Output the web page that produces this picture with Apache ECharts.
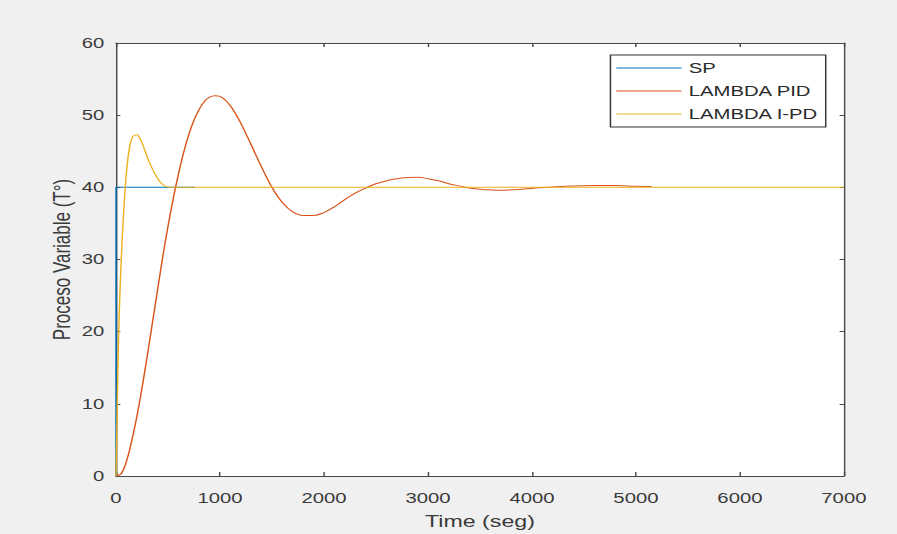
<!DOCTYPE html>
<html>
<head>
<meta charset="utf-8">
<script src="https://cdn.jsdelivr.net/npm/echarts@6/dist/echarts.min.js"></script>
<style>
  html, body { margin: 0; padding: 0; background: #f0f0f0; overflow: hidden; }
  #wrap { width: 897px; height: 534px; overflow: hidden; }
  /* the figure is laid out narrow and widened horizontally */
  #chart { width: 619px; height: 534px; transform: scaleX(1.45); transform-origin: 0 0; }
</style>
</head>
<body>
<div id="wrap"><div id="chart"></div></div>
<script>
// Set point
const spTime = [0, 0, 760];
const spValue = [0, 40, 40];

// LAMBDA PID response
const pidTime = [0, 50, 100, 150, 200, 250, 300, 350, 400, 450, 500, 550, 600, 650, 700, 750, 800, 850, 900, 950,
  1000, 1050, 1100, 1150, 1200, 1300, 1400, 1500, 1600, 1700, 1800, 1900, 2000, 2100, 2200, 2300, 2400, 2500,
  2600, 2700, 2800, 2900, 3000, 3100, 3200, 3300, 3400, 3500, 3600, 3700, 3800, 3900, 4000, 4200, 4400, 4600,
  4800, 5000, 5150];
const pidValue = [0, 0.3, 2.0, 4.8, 8.2, 12.2, 16.6, 21.2, 25.8, 30.4, 34.6, 38.4, 41.8, 44.8, 47.3, 49.3, 50.8, 51.9, 52.5, 52.7,
  52.6, 52.1, 51.3, 50.2, 48.9, 45.9, 42.8, 40.0, 37.9, 36.6, 36.1, 36.1, 36.5, 37.3, 38.3, 39.2, 39.9, 40.5,
  40.9, 41.2, 41.35, 41.4, 41.2, 40.9, 40.5, 40.2, 39.9, 39.75, 39.65, 39.6, 39.65, 39.75, 39.85, 40.05, 40.2, 40.25,
  40.25, 40.15, 40.1];

// LAMBDA I-PD response
const ipdTime = [0, 10, 20, 30, 45, 60, 80, 100, 130, 160, 200, 240, 280, 320, 370, 420, 470, 520, 600, 800, 7000];
const ipdValue = [0, 8, 16, 22, 28, 33, 38, 42, 45.5, 47, 47.3, 46.5, 45, 43.5, 42, 40.8, 40.2, 40, 40, 40, 40];

const xTicks = { min: 0, max: 7000, step: 1000 };
const yTicks = { min: 0, max: 60, step: 10 };

const pairs = (t, v) => t.map((x, i) => [x, v[i]]);

const axisColor = '#4a4a4a';
const textColor = '#3a3a3a';
const font = '"Liberation Sans", Arial, sans-serif';
const lineIcon = 'path://M0,0H45V1H0Z';

const chart = echarts.init(document.getElementById('chart'), null, { renderer: 'svg' });
chart.setOption({
  backgroundColor: '#f0f0f0',
  animation: false,
  grid: { left: 80, right: 37, top: 43, bottom: 55, show: true, backgroundColor: '#ffffff', borderWidth: 0 },
  legend: {
    data: [
      { name: 'SP', icon: lineIcon },
      { name: 'LAMBDA PID', icon: lineIcon },
      { name: 'LAMBDA I-PD', icon: lineIcon }
    ],
    orient: 'vertical',
    left: 421, top: 55,
    itemWidth: 45, itemHeight: 1.5, itemGap: 9,
    padding: [6, 5, 6, 4],
    backgroundColor: '#ffffff',
    borderColor: '#333333', borderWidth: 1,
    textStyle: { fontFamily: font, fontSize: 14, color: '#2a2a2a', lineHeight: 14, height: 14 }
  },
  xAxis: [{
    type: 'value', min: xTicks.min, max: xTicks.max, interval: xTicks.step, position: 'bottom',
    name: 'Time (seg)', nameLocation: 'middle', nameGap: 37, nameMoveOverlap: false,
    nameTextStyle: { fontFamily: font, fontSize: 16, color: textColor },
    axisLine: { show: true, lineStyle: { color: axisColor, width: 1 } },
    axisTick: { show: true, inside: true, length: 4, lineStyle: { color: axisColor } },
    axisLabel: { margin: 15, fontFamily: font, fontSize: 14, color: textColor, formatter: v => String(v) },
    splitLine: { show: false }
  }, {
    type: 'value', min: xTicks.min, max: xTicks.max, interval: xTicks.step, position: 'top',
    axisLine: { show: true, onZero: false, lineStyle: { color: axisColor, width: 1 } },
    axisTick: { show: true, inside: true, length: 4, lineStyle: { color: axisColor } },
    axisLabel: { show: false }, splitLine: { show: false }
  }],
  yAxis: [{
    type: 'value', min: yTicks.min, max: yTicks.max, interval: yTicks.step, position: 'left',
    name: 'Proceso Variable (T°)', nameLocation: 'middle', nameGap: 29, nameMoveOverlap: false,
    nameTextStyle: { fontFamily: font, fontSize: 17, color: textColor },
    axisLine: { show: true, lineStyle: { color: axisColor, width: 1 } },
    axisTick: { show: true, inside: true, length: 3, lineStyle: { color: axisColor } },
    axisLabel: { margin: 8, fontFamily: font, fontSize: 14, color: textColor },
    splitLine: { show: false }
  }, {
    type: 'value', min: yTicks.min, max: yTicks.max, interval: yTicks.step, position: 'right',
    axisLine: { show: true, onZero: false, lineStyle: { color: axisColor, width: 1 } },
    axisTick: { show: true, inside: true, length: 3, lineStyle: { color: axisColor } },
    axisLabel: { show: false }, splitLine: { show: false }
  }],
  series: [{
    name: 'SP', type: 'line', symbol: 'none', data: pairs(spTime, spValue),
    lineStyle: { color: '#0072BD', width: 1 }, itemStyle: { color: '#0072BD' }
  }, {
    name: 'LAMBDA PID', type: 'line', symbol: 'none', smooth: 0.4,
    data: pairs(pidTime, pidValue),
    lineStyle: { color: '#D95319', width: 1 }, itemStyle: { color: '#D95319' }
  }, {
    name: 'LAMBDA I-PD', type: 'line', symbol: 'none', smooth: 0.4,
    data: pairs(ipdTime, ipdValue),
    lineStyle: { color: '#EDB120', width: 1 }, itemStyle: { color: '#EDB120' }
  }]
});
</script>
</body>
</html>
